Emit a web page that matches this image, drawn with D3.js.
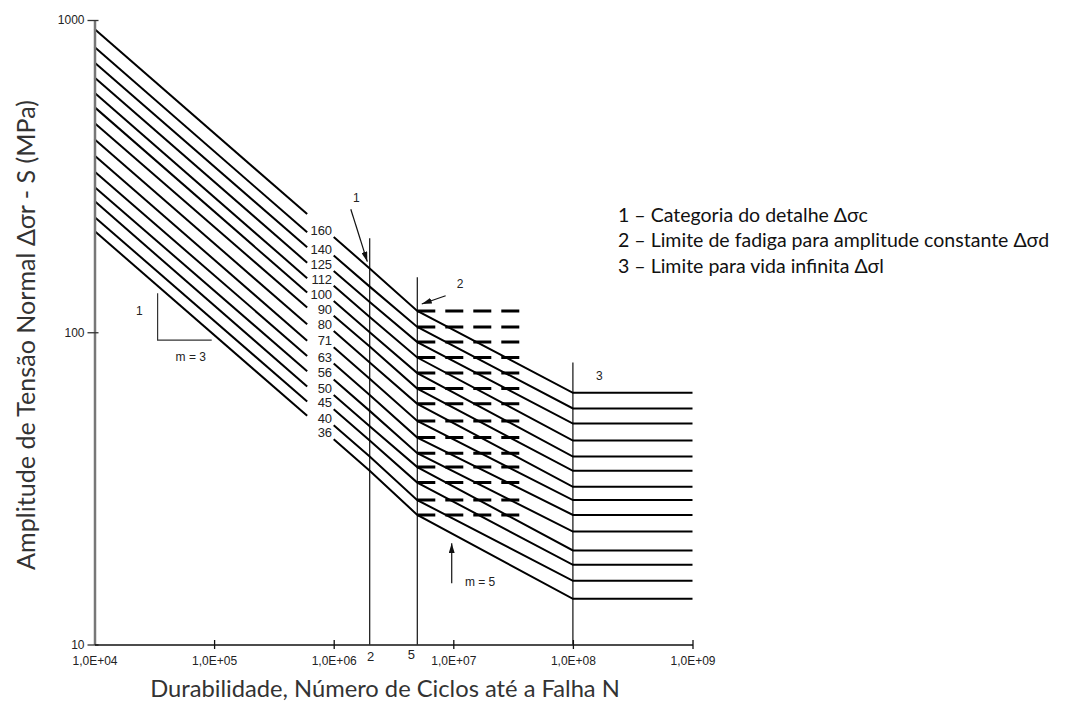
<!DOCTYPE html>
<html><head><meta charset="utf-8">
<script src="https://cdn.jsdelivr.net/npm/d3@7"></script>
<style>body{margin:0;background:#fff} svg{display:block}</style>
</head><body><svg id="chart" width="1069" height="704"></svg>
<script>
// Detail categories (Δσc at N = 2·10^6) and read stresses (MPa)
const categories   = [160,140,125,112,100,90,80,71,63,56,50,45,40,36];
const stressAt1e4  = [936,819,731,655,585,526,468,415,368,327,292,263,234,211];
const stressAt6e5  = [239,209,187,167,149,134,120,106,94,84,75,67,60,54];
const stressAt1e6  = [202,176,157,141,126,113,101,89.5,79.4,70.6,63,56.7,50.4,45.4];
const deltaSigmaD  = [117,104,93,83,74,66,59,52,46,41,37,33,29,26];
const deltaSigmaL  = [64,57,51,45,40,36,32,29,26,23,20,18,16,14];
// cycle break points
const N_START = 1e4, N_GAP_START = 6e5, N_GAP_END = 1e6, N_C = 2e6, N_D = 5e6, N_L = 1e8, N_END = 1e9, N_DASH_END = 3.6e7;
const N_LABEL = 9.7e5;
// axis ticks
const xTickValues = [1e4,1e5,1e6,1e7,1e8,1e9];
const xTickLabels = ["1,0E+04","1,0E+05","1,0E+06","1,0E+07","1,0E+08","1,0E+09"];
const yTickValues = [10,100,1000];
const yTickLabels = ["10","100","1000"];
// reference verticals [N, top stress]
const verticals = [[2e6,200],[5e6,150],[1e8,80]];
// annotations
const arrows = [
  {from:[1.39e6,247.7], to:[1.91e6,168.3]},
  {from:[8.63e6,130.9], to:[5.45e6,123.2]},
  {from:[9.7e6,15.7],  to:[9.7e6,21.1]}
];
const notes = [
  {t:"1", at:[1.55e6,268.5], anchor:"middle"},
  {t:"2", at:[1.14e7,142.4], anchor:"middle"},
  {t:"3", at:[1.66e8,72.4],  anchor:"middle"},
  {t:"1", at:[2.37e4,117],   anchor:"middle"},
  {t:"m = 3", at:[6.38e4,83.5], anchor:"middle"},
  {t:"m = 5", at:[1.25e7,15.8], anchor:"start"}
];
const slopeTriangle = [[3.37e4,133.4],[3.37e4,94.4],[9.55e4,94.4]];
const legendLines = [
  "1 – Categoria do detalhe Δσc",
  "2 – Limite de fadiga para amplitude constante Δσd",
  "3 – Limite para vida infinita Δσl"
];
const xTitle = "Durabilidade, Número de Ciclos até a Falha N";
const yTitle = "Amplitude de Tensão Normal Δσr - S (MPa)";

const svg = d3.select("#chart");
svg.append("rect").attr("width",1069).attr("height",704).attr("fill","#fff");

const x = d3.scaleLog().domain([1e4,1e9]).range([94.5,692.5]);
const y = d3.scaleLog().domain([10,1000]).range([644.5,20]);
const AX = "'Liberation Sans', Arial, sans-serif";

svg.append("defs").append("marker")
  .attr("id","ah").attr("markerUnits","userSpaceOnUse")
  .attr("viewBox","0 0 10 6").attr("refX",10).attr("refY",3)
  .attr("markerWidth",10).attr("markerHeight",6).attr("orient","auto")
  .append("path").attr("d","M0,0 L10,3 L0,6 Z").attr("fill","#111");

// vertical reference lines
svg.append("g").selectAll("line").data(verticals).join("line")
  .attr("x1",d=>x(d[0])).attr("x2",d=>x(d[0]))
  .attr("y1",d=>y(d[1])).attr("y2",y(10))
  .attr("stroke","#111").attr("stroke-width",1.2);

// dashed constant amplitude limits
svg.append("g").selectAll("line").data(deltaSigmaD).join("line")
  .attr("x1",x(N_D)).attr("x2",x(N_DASH_END))
  .attr("y1",d=>y(d)).attr("y2",d=>y(d))
  .attr("stroke","#000").attr("stroke-width",3).attr("stroke-dasharray","18,10");

// S-N curves
const line = d3.line().x(d=>x(d[0])).y(d=>y(d[1]));
const g = svg.append("g").attr("fill","none").attr("stroke","#000").attr("stroke-width",2);
categories.forEach((c,i)=>{
  g.append("path").attr("d", line([[N_START,stressAt1e4[i]],[N_GAP_START,stressAt6e5[i]]]));
  g.append("path").attr("d", line([[N_GAP_END,stressAt1e6[i]],[N_C,c],[N_D,deltaSigmaD[i]],[N_L,deltaSigmaL[i]],[N_END,deltaSigmaL[i]]]));
});

// category labels
svg.append("g").selectAll("text").data(categories).join("text")
  .attr("x",x(N_LABEL)).attr("y",(d,i)=>y(stressAt1e6[i])-6.5)
  .attr("text-anchor","end").attr("dominant-baseline","central")
  .attr("font-family",AX).attr("font-size",13).attr("fill","#222")
  .text(d=>d);

// slope triangle
svg.append("path").attr("d",line(slopeTriangle)).attr("fill","none")
  .attr("stroke","#333").attr("stroke-width",1.2);

// arrows
svg.append("g").selectAll("line").data(arrows).join("line")
  .attr("x1",d=>x(d.from[0])).attr("y1",d=>y(d.from[1]))
  .attr("x2",d=>x(d.to[0])).attr("y2",d=>y(d.to[1]))
  .attr("stroke","#111").attr("stroke-width",1.2).attr("marker-end","url(#ah)");

// notes
svg.append("g").selectAll("text").data(notes).join("text")
  .attr("x",d=>x(d.at[0])).attr("y",d=>y(d.at[1]))
  .attr("text-anchor",d=>d.anchor).attr("dominant-baseline","central")
  .attr("font-family",AX).attr("font-size",12).attr("fill","#222")
  .text(d=>d.t);

// axes
const gx = svg.append("g").attr("transform",`translate(0,${y(10)})`)
  .call(d3.axisBottom(x).tickValues(xTickValues).tickFormat((d,i)=>xTickLabels[i]).tickSizeInner(4.5).tickSizeOuter(0));
gx.select(".domain").attr("stroke","#111").attr("stroke-width",1.3);
gx.selectAll(".tick line").attr("y1",-4.5).attr("stroke","#111").attr("stroke-width",1.3);
gx.selectAll(".tick text").attr("y",20.5).attr("dy",0).attr("font-family",AX).attr("font-size",12).attr("fill","#222");
gx.selectAll(".tick").filter(d=>d===1e4).select("line").remove();

const gy = svg.append("g").attr("transform",`translate(${x(1e4)},0)`)
  .call(d3.axisLeft(y).tickValues(yTickValues).tickFormat((d,i)=>yTickLabels[i]).tickSizeInner(7).tickSizeOuter(0).tickPadding(3));
gy.select(".domain").attr("stroke","#777").attr("stroke-width",2.5);
gy.selectAll(".tick line").attr("x1",4).attr("stroke","#333").attr("stroke-width",1.3);
gy.selectAll(".tick text").attr("font-family",AX).attr("font-size",12).attr("fill","#222");
svg.node().appendChild(gx.node());

// axis labels "2" and "5"
svg.append("text").attr("x",x(N_C)+1).attr("y",y(10)+12).attr("text-anchor","middle")
  .attr("dominant-baseline","central").attr("font-family",AX).attr("font-size",13).attr("fill","#222").text("2");
svg.append("text").attr("x",x(N_D)-6).attr("y",y(10)+10).attr("text-anchor","middle")
  .attr("dominant-baseline","central").attr("font-family",AX).attr("font-size",13).attr("fill","#222").text("5");

function fit(sel, target){
  const w = sel.node().getComputedTextLength();
  const fs = parseFloat(sel.attr("font-size"));
  if (w>0) sel.attr("font-size", (fs*target/w).toFixed(2));
}
const TF = "Lato, 'Open Sans', sans-serif";
// titles
const xt = svg.append("text").attr("x",385).attr("y",697).attr("text-anchor","middle")
  .attr("font-family",TF).attr("font-size",21).attr("fill","#333").text(xTitle);
fit(xt,470);
const yt = svg.append("text").attr("transform","translate(35,335) rotate(-90)").attr("text-anchor","middle")
  .attr("font-family",TF).attr("font-size",22).attr("fill","#333").text(yTitle);
fit(yt,470);

// legend
const lg = svg.append("g");
const l0 = lg.append("text").attr("x",618).attr("y",221.7).attr("font-family",TF).attr("font-size",18).attr("fill","#111").text(legendLines[0]);
fit(l0,250);
const lfs = l0.attr("font-size");
legendLines.slice(1).forEach((t,i)=>{
  lg.append("text").attr("x",618).attr("y",221.7+(i+1)*25.5).attr("font-family",TF).attr("font-size",lfs).attr("fill","#111").text(t);
});
</script></body></html>
